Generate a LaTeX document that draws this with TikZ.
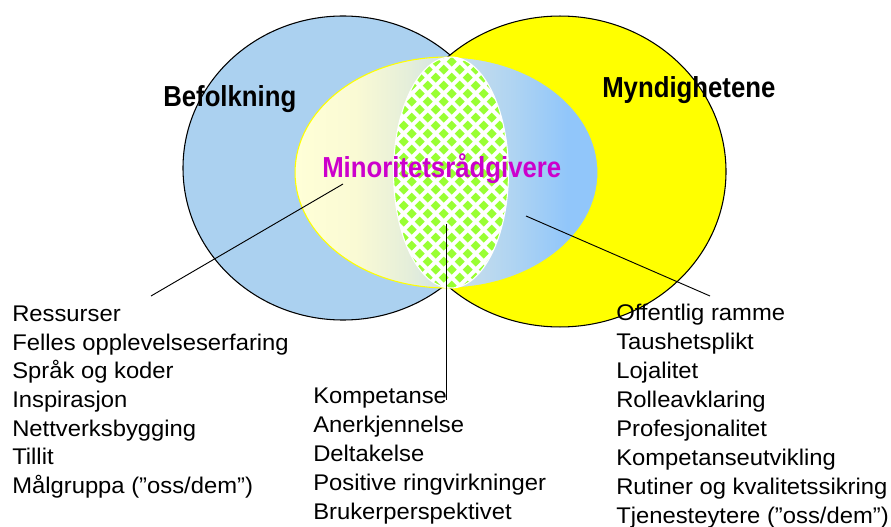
\documentclass[tikz,border=0pt]{standalone}
\usepackage{fontspec}
\setmainfont{Liberation Sans}[FakeStretch=1.05]
\newfontfamily\titlefont{Liberation Sans}[FakeStretch=0.89]
\definecolor{lblue}{RGB}{171,209,240}
\definecolor{yel}{RGB}{255,255,0}
\definecolor{dgreen}{RGB}{153,255,51}
\definecolor{mag}{RGB}{204,0,204}
\definecolor{sy0}{RGB}{255,255,215}
\definecolor{sy1}{RGB}{250,250,212}
\definecolor{sy2}{RGB}{228,238,218}
\definecolor{sy3}{RGB}{200,222,235}
\definecolor{sy4}{RGB}{175,212,242}
\definecolor{sy5}{RGB}{145,198,250}
\pgfdeclarehorizontalshading{midshade}{100bp}{color(0bp)=(sy0); color(25bp)=(sy0); color(35bp)=(sy1); color(44bp)=(sy2); color(52.5bp)=(sy3); color(61bp)=(sy4); color(70bp)=(sy5); color(100bp)=(sy5)}
\begin{document}
\begin{tikzpicture}[x=0.75pt,y=-0.75pt,
  title/.style={font=\titlefont\bfseries\fontsize{21.7pt}{26pt}\selectfont, inner sep=0pt, anchor=base west},
  item/.style={font=\fontsize{17pt}{21pt}\selectfont, inner sep=0pt, anchor=base west},
  conn/.style={line width=0.7pt, black}]
\useasboundingbox (0,0) rectangle (891,527);
% big circles
\draw[fill=lblue, line width=0.8pt] (343,168) ellipse [x radius=120pt, y radius=114pt];
\draw[fill=yel, line width=0.8pt] (560,171.5) ellipse [x radius=124.5pt, y radius=116.6pt];
% middle ellipse
\shade[shading=midshade] (446.5,172.5) ellipse [x radius=113.6pt, y radius=86.6pt];
\draw[yel, line width=0.8pt] (446.5,172.5) ellipse [x radius=113.6pt, y radius=86.6pt];
% inner patterned ellipse
\begin{scope}
\clip (451,172.5) ellipse [x radius=43.1pt, y radius=86.6pt];
\fill[white] (390,50) rectangle (515,295);
\foreach \i in {0,...,8} \foreach \j in {0,...,15} {
  \fill[dgreen] (387.7+16*\i, 45.7+16*\j) +(-5,0) -- +(0,-5) -- +(5,0) -- +(0,5) -- cycle;
  \fill[dgreen] (395.7+16*\i, 53.7+16*\j) +(-5,0) -- +(0,-5) -- +(5,0) -- +(0,5) -- cycle;
}
\end{scope}
\draw[white, line width=0.8pt] (451,172.5) ellipse [x radius=43.1pt, y radius=86.6pt];
% titles
\node[title] (bef) at (163,106.7) {Befolkning};
\node[title] (myn) at (602,98) {Myndighetene};
\node[title, text=mag] (min) at (322,177.3) {Minoritetsrådgivere};
% lists
\foreach \t [count=\i] in {Ressurser, Felles opplevelseserfaring, Språk og koder, Inspirasjon, Nettverksbygging, Tillit, Målgruppa (”oss/dem”)}
  \node[item] (L\i) at (12, {321.7+28.6*(\i-1)}) {\t};
\foreach \t [count=\i] in {Kompetanse, Anerkjennelse, Deltakelse, Positive ringvirkninger, Brukerperspektivet}
  \node[item] (M\i) at (313, {403.3+29*(\i-1)}) {\t};
\foreach \t [count=\i] in {Offentlig ramme, Taushetsplikt, Lojalitet, Rolleavklaring, Profesjonalitet, Kompetanseutvikling, Rutiner og kvalitetssikring, Tjenesteytere (”oss/dem”)}
  \node[item] (R\i) at (616, {320.7+28.9*(\i-1)}) {\t};
% connectors
\coordinate (la) at (151,296);
\coordinate (lb) at (343,184);
\coordinate (ma) at (446,224);
\coordinate (mb) at (446,400);
\coordinate (ra) at (526,216);
\coordinate (rb) at (710,296);
\draw[conn] (la) -- (lb);
\draw[conn] (ma) -- (mb);
\draw[conn] (ra) -- (rb);
\end{tikzpicture}
\end{document}
